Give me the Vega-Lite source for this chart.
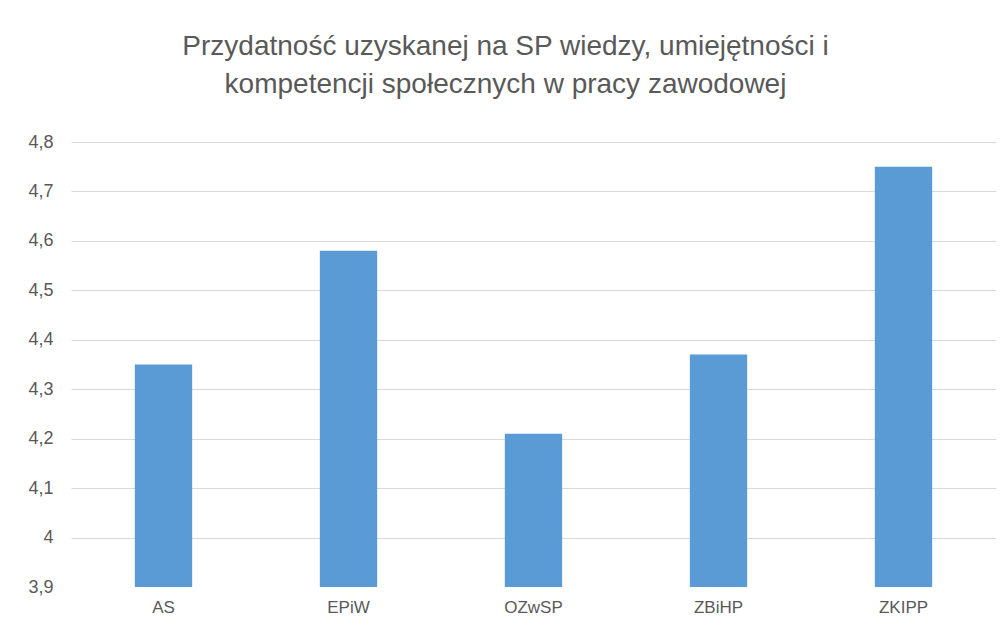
{
  "$schema": "https://vega.github.io/schema/vega-lite/v6.json",
  "autosize": {"type": "none"},
  "width": 925,
  "height": 445,
  "padding": {"left": 71, "top": 142, "right": 12, "bottom": 49},
  "background": "white",
  "title": {
    "text": ["Przydatność uzyskanej na SP wiedzy, umiejętności i", "kompetencji społecznych w pracy zawodowej"],
    "font": "'Liberation Sans', sans-serif",
    "fontSize": 28,
    "fontWeight": "normal",
    "color": "#595959",
    "anchor": "middle",
    "frame": "group",
    "dx": -28,
    "lineHeight": 38,
    "offset": 34
  },
  "data": {
    "values": [
      {"kategoria": "AS", "wartosc": 4.35},
      {"kategoria": "EPiW", "wartosc": 4.58},
      {"kategoria": "OZwSP", "wartosc": 4.21},
      {"kategoria": "ZBiHP", "wartosc": 4.37},
      {"kategoria": "ZKIPP", "wartosc": 4.75}
    ]
  },
  "mark": {"type": "bar", "color": "#5B9BD5", "clip": true},
  "encoding": {
    "x": {
      "field": "kategoria",
      "type": "nominal",
      "sort": null,
      "scale": {"paddingInner": 0.69, "paddingOuter": 0.345},
      "axis": {
        "title": null,
        "labelAngle": 0,
        "domain": false,
        "ticks": false,
        "labelFont": "'Liberation Sans', sans-serif",
        "labelFontSize": 17,
        "labelColor": "#595959",
        "labelPadding": 12
      }
    },
    "y": {
      "field": "wartosc",
      "type": "quantitative",
      "scale": {"domain": [3.9, 4.8], "zero": false, "nice": false},
      "axis": {
        "title": null,
        "values": [3.9, 4.0, 4.1, 4.2, 4.3, 4.4, 4.5, 4.6, 4.7, 4.8],
        "labelExpr": "replace(format(datum.value, '.1~f'), '.', ',')",
        "domain": false,
        "ticks": false,
        "grid": true,
        "gridColor": "#D9D9D9",
        "gridWidth": 1,
        "gridOpacity": {"condition": {"test": "datum.value < 3.95", "value": 0}, "value": 1},
        "labelFont": "'Liberation Sans', sans-serif",
        "labelFontSize": 18,
        "labelColor": "#595959",
        "labelPadding": 18
      }
    }
  },
  "config": {"view": {"stroke": null}}
}
